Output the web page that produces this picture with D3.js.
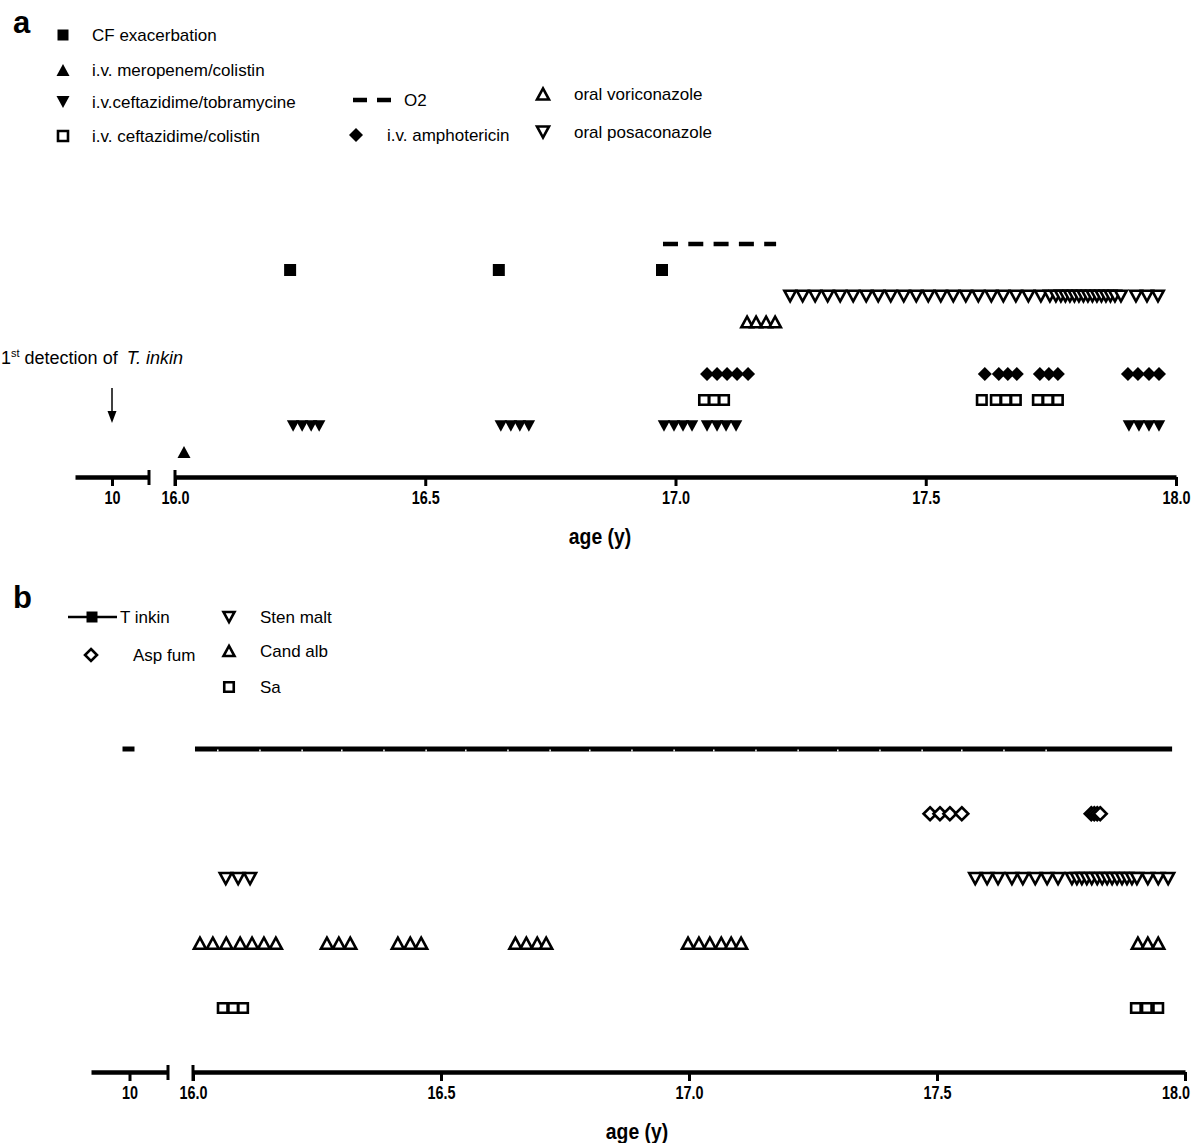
<!DOCTYPE html>
<html>
<head>
<meta charset="utf-8">
<script src="https://cdn.jsdelivr.net/npm/d3@7"></script>
<style>
  body { margin: 0; background: #fff; }
  text { font-family: "Liberation Sans", Arial, sans-serif; fill: #000; }
  .tick text { font-family: "Liberation Sans", Arial, sans-serif; font-weight: bold; font-size: 18px; }
  .axis-title { font-family: "Liberation Sans", Arial, sans-serif; font-weight: bold; font-size: 22px; }
  .legend text { font-size: 17px; }
</style>
</head>
<body>
<div id="container"></div>
<script>
// ---- panel a: treatment events (age in years) ----
var cfExacerbation = [16.230, 16.647, 16.973];
var meropenemColistin = [16.018];
var ceftazidimeTobra = [16.236, 16.254, 16.272, 16.288,
                        16.651, 16.671, 16.689, 16.707,
                        16.977, 16.997, 17.015, 17.033,
                        17.063, 17.083, 17.101, 17.121,
                        17.906, 17.926, 17.946, 17.966];
var ceftazidimeColistin = [17.057, 17.077, 17.097,
                           17.612, 17.640, 17.660, 17.680,
                           17.724, 17.744, 17.764];
var amphotericin = [17.063, 17.083, 17.103, 17.123, 17.145,
                    17.618, 17.646, 17.664, 17.682,
                    17.728, 17.746, 17.764,
                    17.904, 17.924, 17.946, 17.966];
var voriconazole = [17.143, 17.161, 17.181, 17.199];
var posaconazole = [17.229, 17.254, 17.279, 17.304, 17.329, 17.355,
                    17.381, 17.405, 17.430,
                    17.456, 17.481, 17.505, 17.530, 17.555, 17.580, 17.605,
                    17.631, 17.655, 17.680, 17.705,
                    17.730, 17.748, 17.760, 17.770, 17.779, 17.788, 17.797, 17.806,
                    17.815, 17.824, 17.833, 17.842, 17.851, 17.860, 17.869, 17.878,
                    17.890, 17.920, 17.942, 17.964];
var o2Period = [16.975, 17.201];
var firstDetection = 10;

// ---- panel b: microbiology findings ----
var tinkinEarly = [10];
var tinkinSpan = [16.004, 17.974];
var tinkinSamples = [16.05, 16.135, 16.22, 16.30, 16.385, 16.47, 16.55, 16.635, 16.72, 16.80,
                     16.885, 16.97, 17.05, 17.135, 17.22, 17.30, 17.385, 17.47, 17.55, 17.635, 17.72];
var aspFum = [17.486, 17.506, 17.526, 17.550, 17.811, 17.817, 17.823, 17.829];
var stenMalt = [16.066, 16.091, 16.115,
                17.577, 17.601, 17.623, 17.651, 17.673, 17.698, 17.722, 17.744,
                17.772, 17.782, 17.792, 17.802, 17.812, 17.823, 17.833, 17.843,
                17.853, 17.863, 17.873, 17.883, 17.893, 17.903, 17.925, 17.946, 17.966];
var candAlb = [16.014, 16.040, 16.067, 16.095, 16.119, 16.143, 16.167,
               16.270, 16.294, 16.317,
               16.413, 16.438, 16.460,
               16.650, 16.672, 16.694, 16.712,
               16.998, 17.020, 17.042, 17.065, 17.085, 17.105,
               17.905, 17.925, 17.946];
var sa = [16.060, 16.081, 16.101, 17.901, 17.923, 17.946];

// axis ticks
var mainTicks = [16.0, 16.5, 17.0, 17.5, 18.0];
var breakTicks = [10];

// legend labels
var legendA1 = ["CF exacerbation", "i.v. meropenem/colistin", "i.v.ceftazidime/tobramycine", "i.v. ceftazidime/colistin"];
var legendA2 = ["O2", "i.v. amphotericin"];
var legendA3 = ["oral voriconazole", "oral posaconazole"];
var legendB1 = ["T inkin", "Asp fum"];
var legendB2 = ["Sten malt", "Cand alb", "Sa"];

var rowsA = ["O2", "CF", "posa", "vori", "gap", "ampho", "cefcol", "tobra", "mero"];
var rowsB = ["tinkin", "asp", "sten", "cand", "sa"];

// custom symbol shapes (size = side^2)
var triUp = { draw: function (c, s) { var w = Math.sqrt(s), h = w * 0.92;
  c.moveTo(0, -h / 2); c.lineTo(w / 2, h / 2); c.lineTo(-w / 2, h / 2); c.closePath(); } };
var triDown = { draw: function (c, s) { var w = Math.sqrt(s), h = w * 0.92;
  c.moveTo(0, h / 2); c.lineTo(w / 2, -h / 2); c.lineTo(-w / 2, -h / 2); c.closePath(); } };
var square = { draw: function (c, s) { var w = Math.sqrt(s) / 2;
  c.moveTo(-w, -w); c.lineTo(w, -w); c.lineTo(w, w); c.lineTo(-w, w); c.closePath(); } };
var diamond = { draw: function (c, s) { var w = Math.sqrt(s) / 2;
  c.moveTo(0, -w); c.lineTo(w, 0); c.lineTo(0, w); c.lineTo(-w, 0); c.closePath(); } };

var svg = d3.select("#container").append("svg")
  .attr("width", 1200).attr("height", 1143)
  .style("background", "#fff");

// scales
var xa = d3.scaleLinear().domain([16, 18]).range([175, 1176]);
var xaLeft = d3.scaleLinear().domain([9, 11]).range([75, 149]);
var ya = d3.scalePoint().domain(rowsA).range([244, 452]);
var axisYa = 477;

var xb = d3.scaleLinear().domain([16, 18]).range([193, 1185]);
var xbLeft = d3.scaleLinear().domain([9, 11]).range([91, 168]);
var yb = d3.scalePoint().domain(rowsB).range([749, 1008]);
var axisYb = 1072;

function drawRow(g, data, x, y, type, side, open) {
  g.append("g").selectAll("path")
    .data(data)
    .enter().append("path")
    .attr("transform", function (d) { return "translate(" + x(d) + "," + y + ")"; })
    .attr("d", d3.symbol().type(type).size(side * side))
    .attr("fill", open ? "#fff" : "#000")
    .attr("stroke", open ? "#000" : "none")
    .attr("stroke-width", open ? 2.6 : 0);
}

function symbolAt(g, x, y, type, side, open) {
  g.append("path")
    .attr("transform", "translate(" + x + "," + y + ")")
    .attr("d", d3.symbol().type(type).size(side * side)())
    .attr("fill", open ? "#fff" : "#000")
    .attr("stroke", open ? "#000" : "none")
    .attr("stroke-width", open ? 2.6 : 0);
}

// broken x axis: small segment around 10, main segment 16-18
function drawAxis(yPos, x, xLeft, titleX, lastShift) {
  var g = svg.append("g").attr("transform", "translate(0," + yPos + ")");
  var left = g.append("g").call(d3.axisBottom(xLeft).tickValues(breakTicks).tickSize(9).tickSizeOuter(0).tickFormat(d3.format("d")));
  var main = g.append("g").call(d3.axisBottom(x).tickValues(mainTicks).tickSize(9).tickSizeOuter(0).tickFormat(d3.format(".1f")));
  [left, main].forEach(function (a) {
    a.select(".domain").attr("stroke", "#000").attr("stroke-width", 4.5);
    a.selectAll(".tick line").attr("stroke", "#000").attr("stroke-width", 3);
    a.selectAll(".tick text").attr("y", 14).attr("fill", "#000")
      .attr("transform", "scale(0.8,1)");
  });
  // keep the last label inside the picture
  main.selectAll(".tick text").filter(function (d) { return d === 18; })
    .attr("x", -lastShift);
  // break caps
  g.append("line").attr("x1", xLeft.range()[1]).attr("x2", xLeft.range()[1])
    .attr("y1", -7).attr("y2", 8).attr("stroke", "#000").attr("stroke-width", 3);
  g.append("line").attr("x1", x(16)).attr("x2", x(16))
    .attr("y1", -7).attr("y2", 9).attr("stroke", "#000").attr("stroke-width", 3);
  g.append("text").attr("class", "axis-title")
    .attr("transform", "translate(" + titleX + ",67) scale(0.88,1)")
    .attr("text-anchor", "middle").text("age (y)");
}

// ================= panel a =================
svg.append("text").attr("x", 13).attr("y", 33)
  .style("font-size", "31px").style("font-weight", "bold").text("a");

var legA = svg.append("g").attr("class", "legend");
var legA1Y = [35, 70, 102, 136];
var legA1Sym = [[square, 11, false], [triUp, 13, false], [triDown, 13, false], [square, 10, true]];
legendA1.forEach(function (t, i) {
  symbolAt(legA, 63, legA1Y[i], legA1Sym[i][0], legA1Sym[i][1], legA1Sym[i][2]);
  legA.append("text").attr("x", 92).attr("y", legA1Y[i]).attr("dy", "0.36em").text(t);
});
// O2 legend
legA.append("line").attr("x1", 353).attr("x2", 391).attr("y1", 100).attr("y2", 100)
  .attr("stroke", "#000").attr("stroke-width", 4.5).attr("stroke-dasharray", "14,10");
legA.append("text").attr("x", 404).attr("y", 100).attr("dy", "0.36em").text(legendA2[0]);
symbolAt(legA, 356, 135, diamond, 14, false);
legA.append("text").attr("x", 387).attr("y", 135).attr("dy", "0.36em").text(legendA2[1]);
symbolAt(legA, 543, 94, triUp, 12, true);
legA.append("text").attr("x", 574).attr("y", 94).attr("dy", "0.36em").text(legendA3[0]);
symbolAt(legA, 543, 132, triDown, 12, true);
legA.append("text").attr("x", 574).attr("y", 132).attr("dy", "0.36em").text(legendA3[1]);

var marksA = svg.append("g");
marksA.append("line")
  .attr("x1", xa(o2Period[0])).attr("x2", xa(o2Period[1]))
  .attr("y1", ya("O2")).attr("y2", ya("O2"))
  .attr("stroke", "#000").attr("stroke-width", 4.5).attr("stroke-dasharray", "15,10.3");
drawRow(marksA, cfExacerbation, xa, ya("CF"), square, 12, false);
drawRow(marksA, posaconazole, xa, ya("posa"), triDown, 11.5, true);
drawRow(marksA, voriconazole, xa, ya("vori"), triUp, 11.5, true);
drawRow(marksA, amphotericin, xa, ya("ampho"), diamond, 14, false);
drawRow(marksA, ceftazidimeColistin, xa, ya("cefcol"), square, 9.5, true);
drawRow(marksA, ceftazidimeTobra, xa, ya("tobra"), triDown, 12.5, false);
drawRow(marksA, meropenemColistin, xa, ya("mero"), triUp, 13, false);

// first detection annotation
var note = svg.append("text").attr("x", 1).attr("y", 364).style("font-size", "18px");
note.append("tspan").text("1");
note.append("tspan").attr("dy", -7).style("font-size", "11px").text("st");
note.append("tspan").attr("dy", 7).text(" detection of");
note.append("tspan").attr("dx", 9).style("font-style", "italic").text("T. inkin");
var ax = xaLeft(firstDetection);
svg.append("line").attr("x1", ax).attr("x2", ax).attr("y1", 388).attr("y2", 414)
  .attr("stroke", "#000").attr("stroke-width", 1.5);
svg.append("path").attr("d", "M" + (ax - 4.5) + ",411L" + (ax + 4.5) + ",411L" + ax + ",423Z").attr("fill", "#000");

drawAxis(axisYa, xa, xaLeft, 600, 0);

// ================= panel b =================
svg.append("text").attr("x", 13).attr("y", 608)
  .style("font-size", "31px").style("font-weight", "bold").text("b");

var legB = svg.append("g").attr("class", "legend");
legB.append("line").attr("x1", 68).attr("x2", 117).attr("y1", 617).attr("y2", 617)
  .attr("stroke", "#000").attr("stroke-width", 2.5);
symbolAt(legB, 92, 617, square, 11, false);
legB.append("text").attr("x", 120).attr("y", 617).attr("dy", "0.36em").text(legendB1[0]);
symbolAt(legB, 91, 655, diamond, 12, true);
legB.append("text").attr("x", 133).attr("y", 655).attr("dy", "0.36em").text(legendB1[1]);
var legB2Y = [617, 651, 687];
var legB2Sym = [[triDown, 11, true], [triUp, 11, true], [square, 9.5, true]];
legendB2.forEach(function (t, i) {
  symbolAt(legB, 229, legB2Y[i], legB2Sym[i][0], legB2Sym[i][1], legB2Sym[i][2]);
  legB.append("text").attr("x", 260).attr("y", legB2Y[i]).attr("dy", "0.36em").text(t);
});

var marksB = svg.append("g");
// T inkin: early detection dash and continuous positive period
marksB.selectAll(".early").data(tinkinEarly).enter().append("line")
  .attr("x1", function (d) { return xbLeft(d) - 7; }).attr("x2", function (d) { return xbLeft(d) + 5; })
  .attr("y1", yb("tinkin")).attr("y2", yb("tinkin"))
  .attr("stroke", "#000").attr("stroke-width", 5);
marksB.append("line")
  .attr("x1", xb(tinkinSpan[0])).attr("x2", xb(tinkinSpan[1]))
  .attr("y1", yb("tinkin")).attr("y2", yb("tinkin"))
  .attr("stroke", "#000").attr("stroke-width", 5);
marksB.selectAll(".notch").data(tinkinSamples).enter().append("line")
  .attr("x1", function (d) { return xb(d); }).attr("x2", function (d) { return xb(d); })
  .attr("y1", yb("tinkin") + 0.5).attr("y2", yb("tinkin") + 2.5)
  .attr("stroke", "#fff").attr("stroke-width", 1.5);
drawRow(marksB, aspFum, xb, yb("asp"), diamond, 13, true);
drawRow(marksB, stenMalt, xb, yb("sten"), triDown, 12, true);
drawRow(marksB, candAlb, xb, yb("cand"), triUp, 12, true);
drawRow(marksB, sa, xb, yb("sa"), square, 9.5, true);

drawAxis(axisYb, xb, xbLeft, 637, 12);
</script>
</body>
</html>
